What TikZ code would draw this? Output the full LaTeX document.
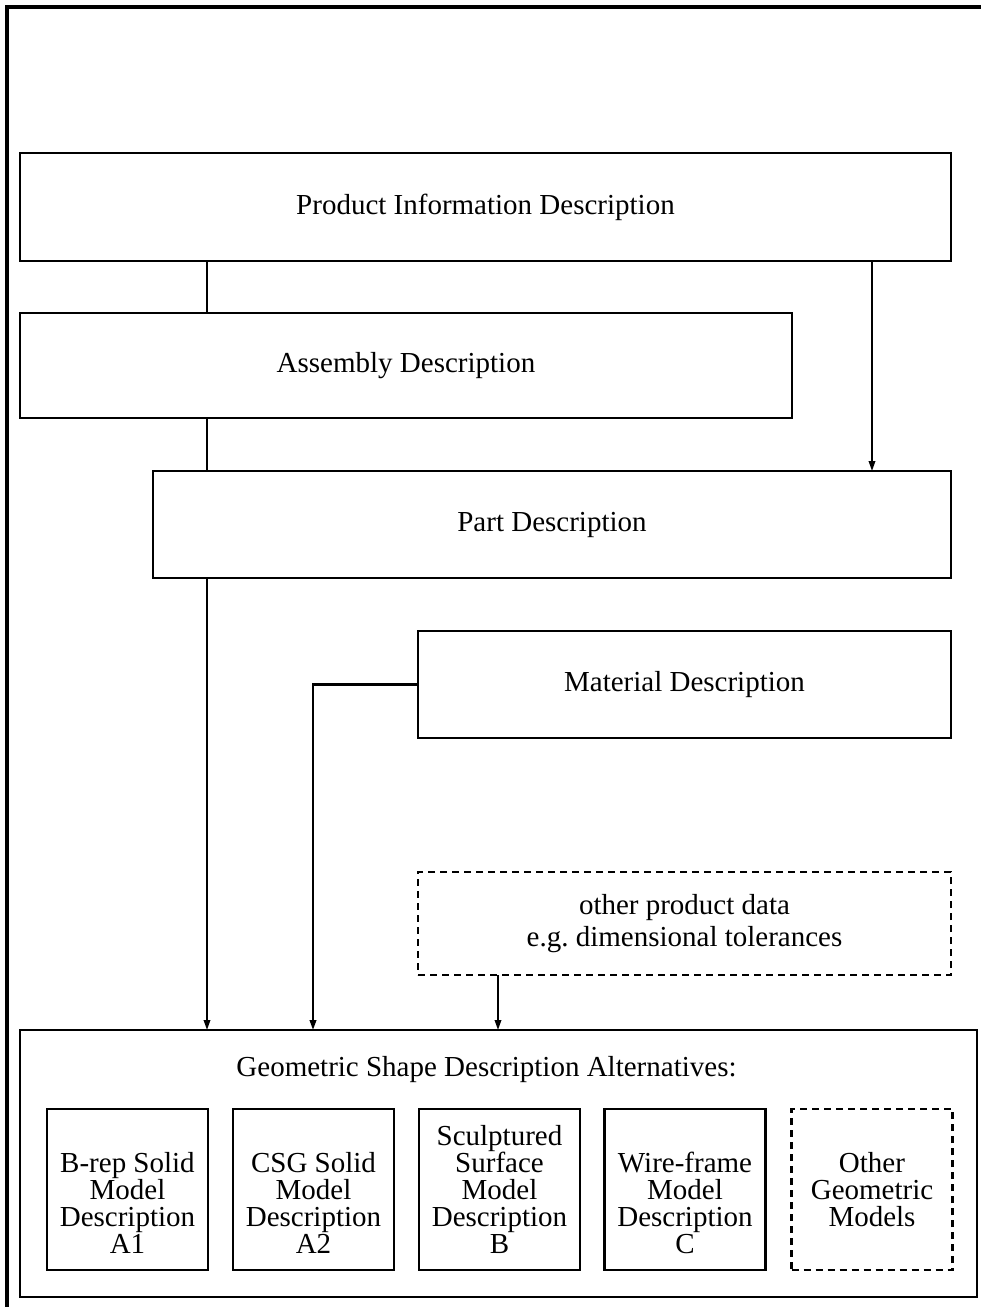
\documentclass[tikz,border=0pt]{standalone}
\usepackage{fontspec}
\setmainfont{Liberation Serif}
\usetikzlibrary{arrows.meta}

\begin{document}
\begin{tikzpicture}[x=1pt,y=-1pt,
  every node/.style={inner sep=0pt,outer sep=0pt},
  descbox/.style={draw,line width=2.8pt,rectangle,font=\fontsize{29}{32}\selectfont},
  dashbox/.style={descbox,line width=2.4pt,dash pattern=on 7pt off 5pt,align=center},
  altbox/.style={draw,line width=2.8pt,rectangle,minimum width=161pt,minimum height=161pt},
  alttext/.style={align=center,font=\fontsize{29}{27}\selectfont},
  link/.style={line width=1.8pt},
  arrowlink/.style={link,-{Triangle[length=10pt,width=6.5pt]}},
  frame/.style={line width=3.2pt}]
\useasboundingbox (0,0) rectangle (981,1307);

% outer frame (top and left sides)
\draw[frame] (7,1307) -- (7,7) -- (981,7);

% description boxes
\node[descbox,minimum width=931pt,minimum height=108pt] (pid) at (485.5,207) {Product Information Description};
\node[descbox,minimum width=772pt,minimum height=105pt] (asm) at (406,365.5) {Assembly Description};
\node[descbox,minimum width=798pt,minimum height=107pt] (part) at (552,524.5) {Part Description};
\node[descbox,minimum width=533pt,minimum height=107pt] (mat) at (684.5,684.5) {Material Description};
\node[dashbox,minimum width=533pt,minimum height=103pt] (opd) at (684.5,923.5) {other product data\\e.g.\ dimensional tolerances};

% geometric shape alternatives
\node[draw,line width=2.8pt,rectangle,minimum width=957pt,minimum height=267pt] (geo) at (498.5,1163.5) {};
\node[font=\fontsize{29}{32}\selectfont] (geotitle) at (486.5,1070) {Geometric Shape Description Alternatives:};

\node[altbox] (alta1) at (127.5,1189.5) {};
\node[altbox] (alta2) at (313.5,1189.5) {};
\node[altbox] (altb) at (499.5,1189.5) {};
\node[altbox] (altc) at (685,1189.5) {};
\node[altbox,dash pattern=on 7pt off 5pt,line width=2.4pt] (alto) at (872,1189.5) {};

\node[alttext] (ta1) at (127.5,1202.5) {B-rep Solid\\Model\\Description\\A1};
\node[alttext] (ta2) at (313.5,1202.5) {CSG Solid\\Model\\Description\\A2};
\node[alttext] (tb) at (499.5,1189) {Sculptured\\Surface\\Model\\Description\\B};
\node[alttext] (tc) at (685,1202.5) {Wire-frame\\Model\\Description\\C};
\node[alttext] (to) at (872,1190) {Other\\Geometric\\Models};

% connector columns
\coordinate (c1) at (207,0);
\coordinate (c2) at (872,0);
\coordinate (c3) at (313,0);
\coordinate (c4) at (498,0);

% connectors
\draw[link] (pid.south -| c1) -- (asm.north -| c1);
\draw[link] (asm.south -| c1) -- (part.north -| c1);
\draw[arrowlink] (pid.south -| c2) -- (part.north -| c2);
\draw[arrowlink] (part.south -| c1) -- (geo.north -| c1);
\draw[arrowlink,line width=2.2pt] (mat.west) -- (mat.west -| c3) -- (geo.north -| c3);
\draw[arrowlink] (opd.south -| c4) -- (geo.north -| c4);
\end{tikzpicture}
\end{document}
